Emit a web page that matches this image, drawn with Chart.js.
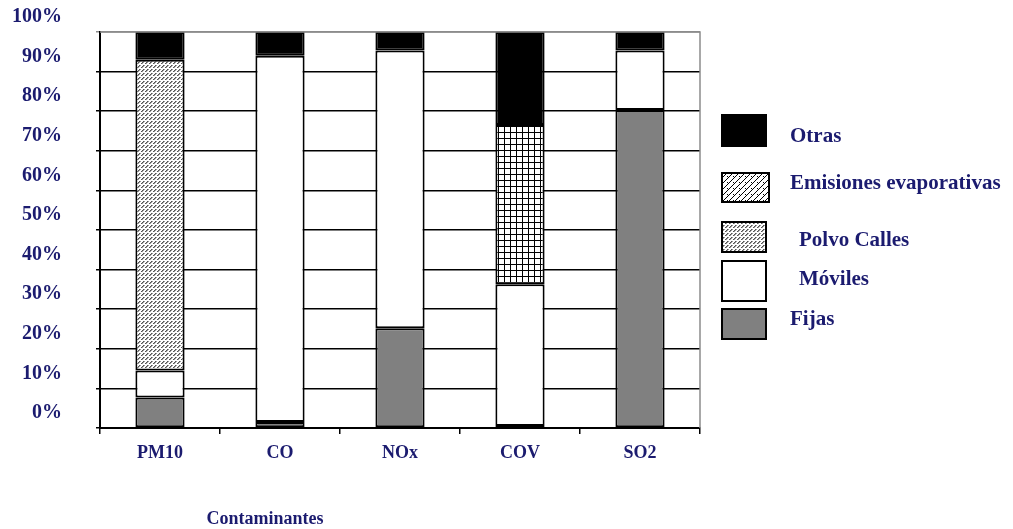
<!DOCTYPE html>
<html>
<head>
<meta charset="utf-8">
<script src="https://cdn.jsdelivr.net/npm/chart.js@4.4.1/dist/chart.umd.min.js"></script>
<style>
  html, body { margin: 0; padding: 0; background: #fff; }
  #wrap { width: 1013px; height: 529px; }
</style>
</head>
<body>
<div id="wrap"><canvas id="c" width="1013" height="529"></canvas></div>
<script>
// Contaminantes y fuentes (porcentaje de emisiones)
const categories = ['PM10', 'CO', 'NOx', 'COV', 'SO2'];
const fijas      = [7.7, 1.5, 25.2, 0.5, 80.3];
const moviles    = [6.8, 92.5, 70.1, 35.8, 15.0];
const polvo      = [78.5, null, null, null, null];
const evap       = [null, null, null, 40.2, null];
const otras      = [7.0, 6.0, 4.7, 23.5, 4.7];
const yTicks     = [0, 10, 20, 30, 40, 50, 60, 70, 80, 90, 100];

const NAVY = '#1b1b6f';
const SERIF = '"Liberation Serif", "DejaVu Serif", serif';

function tile(w, h, paint) {
  const c = document.createElement('canvas');
  c.width = w; c.height = h;
  const g = c.getContext('2d');
  g.fillStyle = '#fff';
  g.fillRect(0, 0, w, h);
  paint(g);
  return g.createPattern(c, 'repeat');
}

// fine slanted dashes for street dust
const polvoFill = tile(4, 4, g => {
  g.fillStyle = '#555';
  g.fillRect(3, 1, 1, 1);
  g.fillRect(2, 2, 1, 1);
  g.fillRect(1, 3, 1, 1);
  g.fillStyle = '#999';
  g.fillRect(0, 1, 1, 1);
  g.fillRect(3, 2, 1, 1);
  g.fillRect(2, 3, 1, 1);
});

// square grid for evaporative emissions
const evapFill = tile(6, 6, g => {
  g.fillStyle = '#000';
  g.fillRect(0, 0, 6, 1);
  g.fillRect(0, 0, 1, 6);
});

// diagonal hatch used in the key swatch
const evapKeyFill = tile(6, 6, g => {
  g.strokeStyle = '#000';
  g.lineWidth = 1;
  g.beginPath();
  g.moveTo(0, 6); g.lineTo(6, 0);
  g.moveTo(-1, 1); g.lineTo(1, -1);
  g.moveTo(5, 7); g.lineTo(7, 5);
  g.stroke();
  g.fillStyle = '#000';
  g.fillRect(1, 2, 1, 1);
});

const base = {
  borderColor: '#000',
  borderWidth: 2,
  borderSkipped: false,
  categoryPercentage: 1.0,
  barPercentage: 0.41
};

const datasets = [
  Object.assign({ label: 'Fijas', data: fijas, backgroundColor: '#808080' }, base),
  Object.assign({ label: 'Móviles', data: moviles, backgroundColor: '#ffffff' }, base),
  Object.assign({ label: 'Polvo Calles', data: polvo, backgroundColor: polvoFill }, base),
  Object.assign({ label: 'Emisiones evaporativas', data: evap, backgroundColor: evapFill }, base),
  Object.assign({ label: 'Otras', data: otras, backgroundColor: '#000000' }, base)
];

// key layout: [x, y, w, h, textX, textY] per dataset, listed top to bottom
const keyOrder = [4, 3, 2, 1, 0];
const keyBoxes = [
  [722, 115, 44, 31, 790, 137],
  [722, 173, 47, 29, 790, 184],
  [722, 222, 44, 30, 799, 241],
  [722, 261, 44, 40, 799, 280],
  [722, 309, 44, 30, 790, 320]
];

const keyPlugin = {
  id: 'sideKey',
  afterDraw(chart) {
    const g = chart.ctx;
    g.save();
    // frame top and right in grey
    const a = chart.chartArea;
    g.strokeStyle = '#8c8c8c';
    g.lineWidth = 1.5;
    g.beginPath();
    g.moveTo(a.left, a.top);
    g.lineTo(a.right, a.top);
    g.lineTo(a.right, a.bottom);
    g.stroke();

    keyOrder.forEach((di, i) => {
      const ds = chart.data.datasets[di];
      const [x, y, w, h, tx, ty] = keyBoxes[i];
      g.fillStyle = di === 3 ? evapKeyFill : ds.backgroundColor;
      g.fillRect(x, y, w, h);
      g.strokeStyle = '#000';
      g.lineWidth = 2;
      g.strokeRect(x, y, w, h);
      g.fillStyle = NAVY;
      g.font = 'bold 21px ' + SERIF;
      g.textBaseline = 'middle';
      g.textAlign = 'left';
      g.fillText(ds.label, tx, ty);
    });

    g.font = 'bold 18px ' + SERIF;
    g.textAlign = 'center';
    g.textBaseline = 'middle';
    g.fillStyle = NAVY;
    g.fillText('Contaminantes', 265, 519);
    g.restore();
  }
};

new Chart(document.getElementById('c'), {
  type: 'bar',
  data: { labels: categories, datasets },
  options: {
    responsive: false,
    animation: false,
    events: [],
    layout: { padding: { left: 0, top: 32, right: 313, bottom: 0 } },
    plugins: {
      legend: { display: false },
      tooltip: { enabled: false }
    },
    scales: {
      x: {
        stacked: true,
        afterFit(s) { s.height = 101; },
        grid: {
          offset: true,
          drawOnChartArea: false,
          color: '#000',
          lineWidth: 1.5,
          tickLength: 6
        },
        border: { color: '#000', width: 2 },
        ticks: {
          color: NAVY,
          padding: 9,
          font: { family: SERIF, size: 18, weight: 'bold' }
        }
      },
      y: {
        stacked: true,
        min: 0,
        max: 100,
        afterFit(s) {
          s.width = 100;
          s.paddingTop = 0;
          s.paddingBottom = 0;
        },
        afterBuildTicks(s) { s.ticks = yTicks.map(v => ({ value: v })); },
        grid: {
          color: ctx => (ctx.tick && ctx.tick.value === 100) ? '#8c8c8c' : '#000',
          lineWidth: 1.5,
          tickLength: 4
        },
        border: { color: '#000', width: 2 },
        ticks: {
          color: NAVY,
          padding: 34,
          labelOffset: -15,
          font: { family: SERIF, size: 20, weight: 'bold' },
          callback: v => v + '%'
        }
      }
    }
  },
  plugins: [keyPlugin]
});
</script>
</body>
</html>
